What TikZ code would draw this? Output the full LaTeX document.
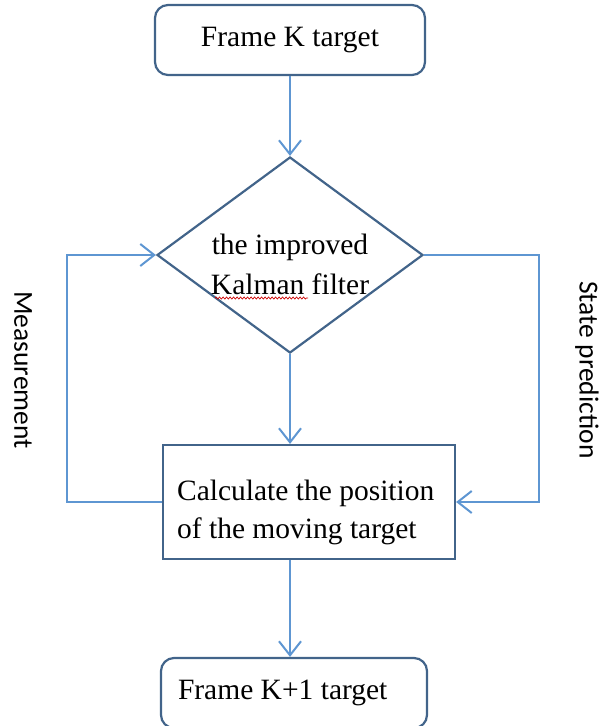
\documentclass[tikz,border=0pt]{standalone}
\usepackage{fontspec}
\setmainfont{Liberation Serif}
\newfontfamily\sidefont{Carlito}
\usetikzlibrary{shapes.geometric,arrows.meta,decorations.pathmorphing}

\definecolor{boxline}{RGB}{66,100,138}
\definecolor{flowline}{RGB}{94,150,210}

\tikzset{
  framebox/.style={draw=boxline, line width=2.2pt, rounded corners=13pt,
    font=\fontsize{29.5}{40}\selectfont},
  calcbox/.style={draw=boxline, line width=2.2pt,
    minimum width=292pt, minimum height=114pt},
  decision/.style={draw=boxline, line width=2.2pt, diamond, inner sep=0pt,
    minimum width=266pt, minimum height=196pt},
  boxtext/.style={font=\fontsize{29.5}{38}\selectfont, inner sep=0pt},
  flow/.style={draw=flowline, line width=2pt,
    -{Straight Barb[length=14pt,width=22pt,line width=2pt]}},
  sidetext/.style={font=\sidefont\fontsize{27.5}{30}\selectfont, rotate=-90, inner sep=0pt}
}

\begin{document}
\begin{tikzpicture}[x=1pt,y=-1pt]
  \clip (0,0) rectangle (599,726);

  % boxes
  \node[framebox, minimum width=270pt, minimum height=70pt] (framek) at (290,40) {Frame K target};
  \node[decision] (filter) at (290,255) {};
  \node[boxtext, align=center, font=\fontsize{29.5}{40}\selectfont] (filtertext)
    at ([yshift=-9pt]filter.center) {the improved\\Kalman filter};
  \node[calcbox] (calc) at (309,502) {};
  \node[boxtext, align=left, anchor=west] (calctext)
    at ([xshift=15pt,yshift=-10pt]calc.west) {Calculate the position\\of the moving target};
  \node[framebox, align=flush left, inner xsep=17pt, text width=232pt, minimum height=70pt] (framek1) at (294,693) {Frame K+1 target};

  % side labels
  \node[sidetext] (meas) at (23,370) {Measurement};
  \node[sidetext] (pred) at (587,370) {State prediction};

  % spelling mark
  \draw[red!80!black, line width=0.7pt, decorate,
    decoration={snake, amplitude=1pt, segment length=3.5pt}] (215,298) -- (308,298);

  % arrows
  \draw[flow] (framek.south) -- (filter.north);
  \draw[flow] (filter.south) -- (filter.south |- calc.north);
  \draw[flow] (filter.south |- calc.south) -- (filter.south |- framek1.north);
  \draw[flow] (calc.west) -- ++(-95,0) |- (filter.west);
  \draw[flow] (filter.east) -- ++(115,0) |- (calc.east);
\end{tikzpicture}
\end{document}
